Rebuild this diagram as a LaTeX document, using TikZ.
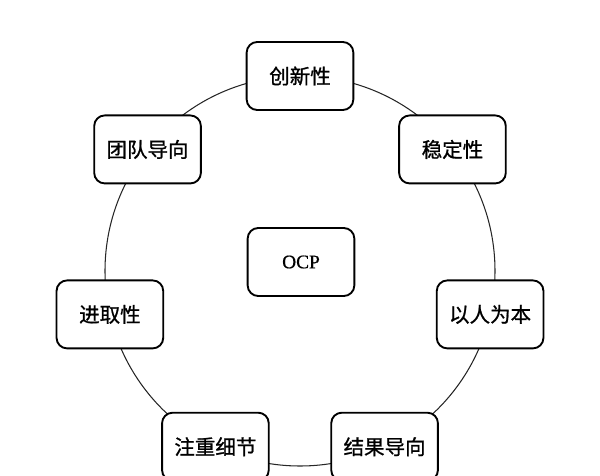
\documentclass[tikz,border=0pt]{standalone}
\usepackage{fontspec}
\newfontfamily\cjk[FakeBold=1]{Noto Sans CJK SC}
\newfontfamily\ocpfont[FakeBold=0.6]{Liberation Serif}
\usetikzlibrary{positioning}

\begin{document}
\begin{tikzpicture}[x=0.03cm, y=0.03cm,
    b/.style={draw, line width=1.6pt, rounded corners=9pt, fill=white, minimum width=3.2cm, minimum height=2.04cm, align=center, font=\cjk\fontsize{17.5}{20}\selectfont},
    ring/.style={draw=black!85, line width=0.9pt}]
    \useasboundingbox (-300,-204) rectangle (300,271);
    \draw[ring] (0,0) circle (195);
    \node[b] (cx) at (90:195) {创新性};
    \node[b] (wd) at (38.57:195) {稳定性};
    \node[b] (yr) at (-12.86:195) {以人为本};
    \node[b] (jg) at (-64.29:195) {结果导向};
    \node[b] (zz) at (-115.71:195) {注重细节};
    \node[b] (jq) at (-167.14:195) {进取性};
    \node[b] (td) at (141.43:195) {团队导向};
    \node[b, font=\ocpfont\fontsize{16.5}{19}\selectfont] (ocp) at (1,9) {OCP};
  \end{tikzpicture}
\end{document}
